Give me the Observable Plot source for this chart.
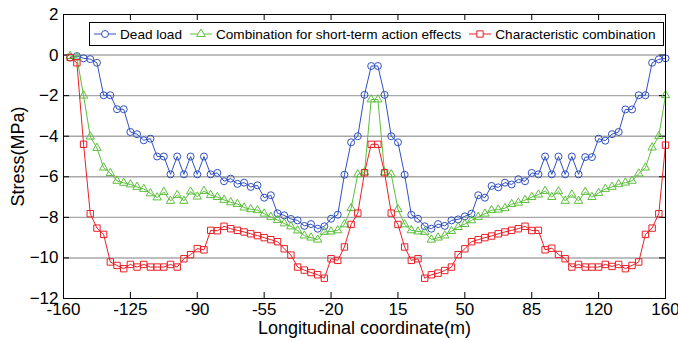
<!DOCTYPE html>
<html>
<head>
<meta charset="utf-8">
<script src="https://cdn.jsdelivr.net/npm/d3@7"></script>
<script src="https://cdn.jsdelivr.net/npm/@observablehq/plot@0.6"></script>
<style>
  html, body { margin: 0; padding: 0; background: white; }
  #wrap { position: relative; width: 678px; height: 341px; font-family: "Liberation Sans", Arial, sans-serif; }
  #legend { position: absolute; left: 89px; top: 22px; width: 570px; height: 22px; border: 1px solid black; background: white;
            display: flex; align-items: center; font-size: 13.6px; padding-left: 3px; box-sizing: content-box; overflow: hidden; }
  .item { display: flex; align-items: center; margin-right: 7px; white-space: nowrap; }
  .item svg { margin-right: 3px; }
</style>
</head>
<body>
<div id="wrap"></div>
<script>
// Axis ticks (tick positions are evenly spaced; last label reads 160)
const xTicks = [-160, -125, -90, -55, -20, 15, 50, 85, 120, 155];
const xTickLabels = ["-160", "-125", "-90", "-55", "-20", "15", "50", "85", "120", "160"];
const yTicks = [-12, -10, -8, -6, -4, -2, 0, 2];
const yGrid = [-10, -8, -6, -4, -2, 0];

// Stations (90 evenly spaced sections)
const stations = d3.range(1, 91).map(k => -160 + 3.5 * k);

const seriesNames = ["Dead load", "Combination for short-term action effects", "Characteristic combination"];
const seriesColors = ["#3050c0", "#5cbf3c", "#e82028"];
const seriesSymbols = ["circle", "triangle", "square"];

const deadLoad = [
  -0.12, -0.05, -0.16, -0.2, -0.38, -1.98, -1.98, -2.67, -2.67, -3.79,
  -3.9, -4.2, -4.12, -5.0, -5.0, -5.88, -5.0, -5.88, -5.0, -5.88,
  -5.0, -5.88, -5.81, -6.22, -6.09, -6.35, -6.29, -6.5, -6.42, -7.03,
  -6.91, -7.8, -7.9, -8.08, -8.15, -8.42, -8.33, -8.56, -8.44, -8.07,
  -7.87, -5.9, -4.3, -4.0, -1.96, -0.54, -0.54, -1.96, -4.0, -4.3,
  -5.9, -7.87, -8.07, -8.44, -8.56, -8.33, -8.42, -8.15, -8.1, -7.95,
  -7.82, -6.91, -7.03, -6.45, -6.52, -6.29, -6.38, -6.12, -6.22, -5.81,
  -5.88, -5.0, -5.88, -5.0, -5.88, -5.0, -5.88, -5.03, -5.03, -4.12,
  -4.22, -3.9, -3.79, -2.68, -2.68, -1.98, -1.98, -0.38, -0.21, -0.16
];
const shortTerm = [
  -0.05, -0.12, -2.0, -4.02, -4.58, -5.55, -5.82, -6.2, -6.3, -6.38,
  -6.5, -6.6, -6.82, -7.02, -6.75, -7.19, -6.9, -7.19, -6.73, -6.98,
  -6.7, -6.9, -7.0, -7.14, -7.26, -7.34, -7.52, -7.6, -7.65, -7.82,
  -7.98, -8.13, -8.3, -8.45, -8.65, -8.9, -9.0, -9.1, -8.72, -8.7,
  -8.64, -8.35, -7.55, -5.88, -5.78, -2.19, -2.19, -5.78, -5.88, -7.6,
  -8.35, -8.64, -8.7, -8.72, -9.1, -9.0, -8.9, -8.68, -8.48, -8.33,
  -8.15, -7.98, -7.82, -7.65, -7.62, -7.55, -7.35, -7.28, -7.15, -7.0,
  -6.88, -6.7, -7.0, -6.72, -7.19, -6.88, -7.19, -6.75, -7.0, -6.8,
  -6.6, -6.5, -6.37, -6.29, -6.2, -5.84, -5.55, -4.56, -4.0, -1.98
];
const characteristic = [
  -0.12, -0.38, -4.4, -7.82, -8.53, -8.84, -10.2, -10.37, -10.53, -10.32,
  -10.45, -10.32, -10.45, -10.45, -10.45, -10.32, -10.45, -10.04, -9.84, -9.54,
  -9.6, -8.64, -8.66, -8.44, -8.56, -8.64, -8.72, -8.81, -8.9, -9.0,
  -9.1, -9.2, -9.55, -9.86, -10.45, -10.6, -10.72, -10.83, -11.0, -10.04,
  -10.12, -9.46, -8.35, -7.79, -5.8, -4.4, -4.4, -5.8, -7.79, -8.35,
  -9.46, -10.12, -10.04, -11.0, -10.83, -10.75, -10.62, -10.45, -9.84, -9.55,
  -9.2, -9.1, -9.0, -8.92, -8.81, -8.72, -8.64, -8.56, -8.44, -8.65,
  -8.64, -9.6, -9.52, -9.83, -10.04, -10.45, -10.32, -10.45, -10.45, -10.45,
  -10.32, -10.42, -10.32, -10.53, -10.37, -10.2, -8.84, -8.53, -7.82, -4.44
];

const seriesValues = [deadLoad, shortTerm, characteristic];
const seriesData = seriesValues.map((vals, s) => vals.map((v, i) => ({x: stations[i], y: v, s})));
const labelMap = new Map(xTicks.map((t, i) => [t, xTickLabels[i]]));

const W = 678, H = 341, mT = 14, mR = 13, mB = 43, mL = 63;
const fw = W - mL - mR, fh = H - mT - mB, tl = 6;

const marks = [
  Plot.ruleY(yGrid, {stroke: "#a8a8a8", strokeWidth: 1.4}),
  Plot.ruleX(xTicks, {insetTop: fh - tl, stroke: "black"}),
  Plot.ruleX(xTicks, {insetBottom: fh - tl, stroke: "black"}),
  Plot.ruleY(yTicks, {insetRight: fw - tl, stroke: "black"}),
  Plot.ruleY(yTicks, {insetLeft: fw - tl, stroke: "black"})
];
const radii = [3.5, 3.1, 3.6];
seriesData.forEach((d, s) => {
  marks.push(Plot.line(d, {x: "x", y: "y", stroke: seriesColors[s], strokeWidth: 1}));
  marks.push(Plot.dot(d, {x: "x", y: "y", stroke: seriesColors[s], fill: "none", strokeWidth: 1,
    symbol: seriesSymbols[s], r: radii[s]}));
});
marks.push(Plot.frame({stroke: "black", strokeWidth: 1}));
marks.push(Plot.axisX({ticks: xTicks, tickFormat: d => labelMap.get(d), tickSize: 0, tickPadding: 4, label: null}));
marks.push(Plot.axisX({ticks: [], tickSize: 0, fontSize: 18,
  label: "Longitudinal coordinate(m)", labelAnchor: "center", labelOffset: 35, labelArrow: "none"}));
marks.push(Plot.axisY({ticks: yTicks, tickSize: 0, tickPadding: 5, label: null}));
marks.push(Plot.axisY({ticks: [], tickSize: 0, fontSize: 18,
  label: "Stress(MPa)", labelAnchor: "center", labelOffset: 52, labelArrow: "none"}));

const chart = Plot.plot({
  width: W, height: H, marginTop: mT, marginRight: mR, marginBottom: mB, marginLeft: mL,
  x: {domain: [-160, 155]},
  y: {domain: [-12, 2]},
  style: {fontFamily: "'Liberation Sans', Arial, sans-serif", fontSize: "17px", background: "white", color: "black", overflow: "visible"},
  marks
});
const wrap = document.getElementById("wrap");
wrap.appendChild(chart);

// Legend overlay
const legend = document.createElement("div");
legend.id = "legend";
seriesNames.forEach((name, s) => {
  const item = document.createElement("div");
  item.className = "item";
  const sw = d3.create("svg").attr("width", 24).attr("height", 12);
  sw.append("line").attr("x1", 1).attr("x2", 23).attr("y1", 6).attr("y2", 6).attr("stroke", seriesColors[s]);
  const sym = d3.symbol().type(s === 0 ? d3.symbolCircle : s === 1 ? d3.symbolTriangle : d3.symbolSquare).size(s === 0 ? 38 : s === 1 ? 32 : 40);
  sw.append("path").attr("d", sym()).attr("transform", "translate(12,6)").attr("fill", "white").attr("stroke", seriesColors[s]);
  item.appendChild(sw.node());
  const t = document.createElement("span");
  t.textContent = name;
  item.appendChild(t);
  legend.appendChild(item);
});
wrap.appendChild(legend);
</script>
</body>
</html>
